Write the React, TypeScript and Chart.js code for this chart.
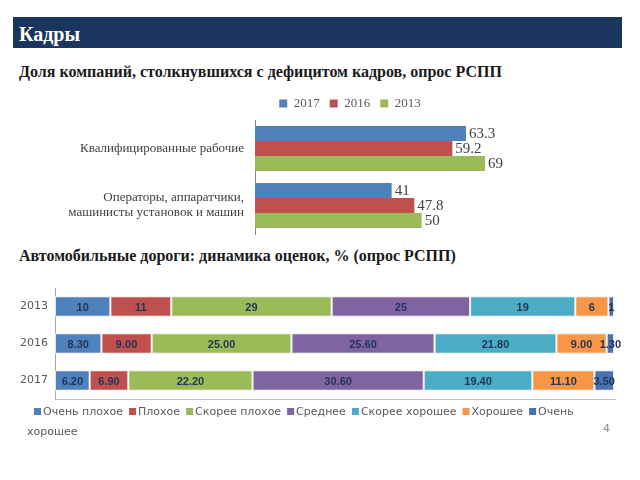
import React, { useEffect, useRef } from 'react';
import { Chart, registerables } from 'chart.js';

Chart.register(...registerables);

// ---------- Chart 1 data ----------
const staffCategories: string[][] = [
  ['Квалифицированные рабочие'],
  ['Операторы, аппаратчики,', 'машинисты установок и машин'],
];
const staffSeriesNames = ['2017', '2016', '2013'];
const staff2017 = [63.3, 41];
const staff2016 = [59.2, 47.8];
const staff2013 = [69, 50];
const staffColors = ['#4F81BD', '#C0504D', '#9BBB59'];

// ---------- Chart 2 data ----------
const roadYears = ['2013', '2016', '2017'];
const roadYearDecimals = [0, 2, 2];
const roadGrades = [
  'Очень плохое',
  'Плохое',
  'Скорее плохое',
  'Среднее',
  'Скорее хорошее',
  'Хорошее',
  'Очень хорошее',
];
const veryBad = [10, 8.3, 6.2];
const bad = [11, 9, 6.9];
const ratherBad = [29, 25, 22.2];
const medium = [25, 25.6, 30.6];
const ratherGood = [19, 21.8, 19.4];
const good = [6, 9, 11.1];
const veryGood = [1, 1.3, 3.5];
const roadColors = ['#4F81BD', '#C0504D', '#9BBB59', '#8064A2', '#4BACC6', '#F79646', '#4A72B0'];

const SERIF = '"Liberation Serif", "DejaVu Serif", serif';
const SANS = '"DejaVu Sans", "Liberation Sans", sans-serif';

function StaffChart() {
  const ref = useRef<HTMLCanvasElement>(null);
  useEffect(() => {
    const series = [staff2017, staff2016, staff2013];
    const labelPlugin = {
      id: 'staffLabels',
      afterDatasetsDraw(chart: any) {
        const ctx = chart.ctx;
        ctx.save();
        ctx.font = `15px ${SERIF}`;
        ctx.fillStyle = '#404040';
        ctx.textBaseline = 'middle';
        ctx.textAlign = 'left';
        chart.data.datasets.forEach((ds: any, di: number) => {
          const meta = chart.getDatasetMeta(di);
          meta.data.forEach((el: any, i: number) => {
            ctx.fillText(String(ds.data[i]), el.x + 3, el.y + 1);
          });
        });
        ctx.restore();
      },
    };
    const chart = new Chart(ref.current!, {
      type: 'bar',
      data: {
        labels: staffCategories,
        datasets: series.map((d, i) => ({
          label: staffSeriesNames[i],
          data: d,
          backgroundColor: staffColors[i],
          categoryPercentage: 0.79,
          barPercentage: 1,
        })),
      },
      options: {
        indexAxis: 'y',
        animation: false,
        responsive: false,
        maintainAspectRatio: false,
        layout: { padding: { top: 0, right: 0, bottom: 8, left: 0 } },
        plugins: {
          legend: {
            display: true,
            position: 'top',
            labels: {
              boxWidth: 8,
              boxHeight: 8,
              padding: 10,
              color: '#595959',
              font: { family: SERIF, size: 13 },
            },
          },
          tooltip: { enabled: false },
        },
        scales: {
          x: { display: false, min: 0, max: 115.5 },
          y: {
            afterFit: (scale: any) => {
              scale.width = 195;
              scale.paddingTop = 0;
              scale.paddingBottom = 0;
            },
            grid: { display: false, drawTicks: false },
            border: { display: true, color: '#868686', width: 1 },
            ticks: {
              padding: 11,
              color: '#404040',
              font: { family: SERIF, size: 13, lineHeight: 1.15 },
            },
          },
        },
      },
      plugins: [labelPlugin],
    } as any);
    return () => chart.destroy();
  }, []);
  return <canvas ref={ref} width={580} height={155} style={{ position: 'absolute', left: 60, top: 87, width: 580, height: 155 }} />;
}

function RoadChart() {
  const ref = useRef<HTMLCanvasElement>(null);
  useEffect(() => {
    const series = [veryBad, bad, ratherBad, medium, ratherGood, good, veryGood];
    const totals = roadYears.map((_, yi) => series.reduce((s, arr) => s + arr[yi], 0));
    const plugin = {
      id: 'roadExtras',
      afterDatasetsDraw(chart: any) {
        const ctx = chart.ctx;
        const area = chart.chartArea;
        ctx.save();
        ctx.font = `bold 11px "Liberation Sans", sans-serif`;
        ctx.fillStyle = '#1F3558';
        ctx.textBaseline = 'middle';
        ctx.textAlign = 'center';
        series.forEach((arr, di) => {
          const meta = chart.getDatasetMeta(di);
          meta.data.forEach((el: any, i: number) => {
            const cx = (el.x + el.base) / 2;
            ctx.fillText(arr[i].toFixed(roadYearDecimals[i]), cx, el.y + 1);
          });
        });
        ctx.restore();

        // bottom axis line
        ctx.save();
        ctx.strokeStyle = '#BFBFBF';
        ctx.lineWidth = 1;
        ctx.beginPath();
        ctx.moveTo(area.left, area.bottom + 0.5);
        ctx.lineTo(area.right + 2, area.bottom + 0.5);
        ctx.stroke();
        ctx.restore();

        // legend
        ctx.save();
        ctx.font = `11px ${SANS}`;
        ctx.textBaseline = 'middle';
        ctx.textAlign = 'left';
        let x = 34;
        let y = 132;
        const maxRight = 600;
        const gap = 6;
        roadGrades.forEach((name, i) => {
          const w = ctx.measureText(name).width;
          ctx.fillStyle = roadColors[i];
          ctx.fillRect(x, y - 4, 7, 7);
          ctx.fillStyle = '#595959';
          if (x + 9 + w > maxRight) {
            const words = name.split(' ');
            ctx.fillText(words[0], x + 9, y);
            y += 20;
            ctx.fillText(words.slice(1).join(' '), 27, y);
            x = 27 + ctx.measureText(words.slice(1).join(' ')).width + gap;
          } else {
            ctx.fillText(name, x + 9, y);
            x += 9 + w + gap;
          }
        });
        ctx.restore();
      },
    };
    const chart = new Chart(ref.current!, {
      type: 'bar',
      data: {
        labels: roadYears,
        datasets: series.map((arr, i) => ({
          label: roadGrades[i],
          data: arr.map((v, yi) => (v / totals[yi]) * 100),
          backgroundColor: roadColors[i],
          borderColor: 'rgba(235,235,235,0.9)',
          borderWidth: 1,
          borderSkipped: false,
          categoryPercentage: 0.56,
          barPercentage: 1,
        })),
      },
      options: {
        indexAxis: 'y',
        animation: false,
        responsive: false,
        maintainAspectRatio: false,
        layout: { padding: { top: 8, right: 26, bottom: 41, left: 0 } },
        plugins: { legend: { display: false }, tooltip: { enabled: false } },
        scales: {
          x: { display: false, stacked: true, min: 0, max: 100 },
          y: {
            stacked: true,
            afterFit: (scale: any) => {
              scale.width = 55;
              scale.paddingTop = 0;
              scale.paddingBottom = 0;
            },
            grid: { display: false, drawTicks: false },
            border: { display: true, color: '#A6A6A6', width: 1 },
            ticks: { padding: 7, color: '#595959', font: { family: SANS, size: 11 } },
          },
        },
      },
      plugins: [plugin],
    } as any);
    return () => chart.destroy();
  }, []);
  return <canvas ref={ref} width={640} height={160} style={{ position: 'absolute', left: 0, top: 280, width: 640, height: 160 }} />;
}

export default function App() {
  return (
    <div style={{ position: 'fixed', left: 0, top: 0, width: 640, height: 480, background: '#fff', overflow: 'hidden' }}>
      <div style={{ position: 'absolute', left: 13, top: 17, width: 609, height: 31, background: '#1B365E' }} />
      <div style={{ position: 'absolute', left: 19, top: 24, fontFamily: SERIF, fontWeight: 'bold', fontSize: 20, lineHeight: '20px', color: '#fff' }}>Кадры</div>
      <div style={{ position: 'absolute', left: 19, top: 64, fontFamily: SERIF, fontWeight: 'bold', fontSize: 16, lineHeight: '16px', color: '#1a1a1a', whiteSpace: 'nowrap' }}>
        Доля компаний, столкнувшихся с дефицитом кадров, опрос РСПП
      </div>
      <div style={{ position: 'absolute', left: 19, top: 248, fontFamily: SERIF, fontWeight: 'bold', fontSize: 16, lineHeight: '16px', color: '#1a1a1a', whiteSpace: 'nowrap' }}>
        Автомобильные дороги: динамика оценок, % (опрос РСПП)
      </div>
      <StaffChart />
      <RoadChart />
      <div style={{ position: 'absolute', left: 603, top: 423, fontFamily: SANS, fontSize: 11, lineHeight: '11px', color: '#8C8C8C' }}>4</div>
    </div>
  );
}
